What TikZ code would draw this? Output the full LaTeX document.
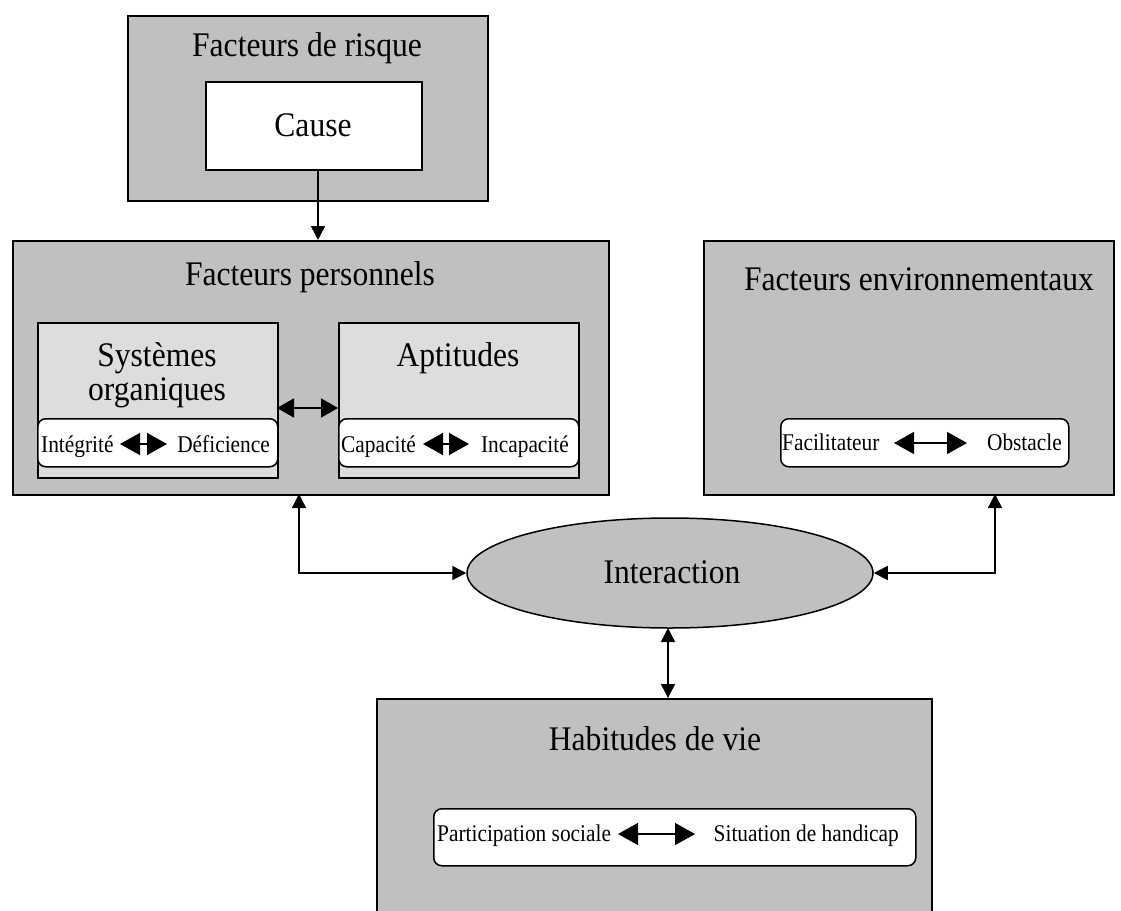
\documentclass[tikz,border=0pt]{standalone}
\usepackage{fontspec}
\setmainfont{Liberation Serif}
\newfontfamily\bigserif{Liberation Serif}[FakeStretch=0.915]
\newfontfamily\smallserif{Liberation Serif}[FakeStretch=0.89]
\usetikzlibrary{arrows.meta,shapes.geometric}
\definecolor{boxgray}{RGB}{192,192,192}
\definecolor{innergray}{RGB}{221,221,221}
\tikzset{
  outerbox/.style={draw=black, line width=1.5pt, fill=boxgray, rectangle, anchor=north west, inner sep=0pt},
  innerbox/.style={draw=black, line width=1.5pt, fill=innergray, rectangle, anchor=north west, inner sep=0pt},
  whitebox/.style={draw=black, line width=1.5pt, fill=white, rectangle, anchor=north west, inner sep=0pt},
  pill/.style={draw=black, line width=1.5pt, fill=white, rectangle, rounded corners=8pt, anchor=north west, inner sep=0pt},
  bigtxt/.style={font=\bigserif\fontsize{34.5}{40}\selectfont, inner sep=0pt},
  smalltxt/.style={font=\smallserif\fontsize{24}{28}\selectfont, inner sep=0pt},
  conn/.style={line width=1.5pt, {Triangle[length=14pt,width=14pt]}-{Triangle[length=14pt,width=14pt]}},
  oneway/.style={line width=1.5pt, -{Triangle[length=14pt,width=14pt]}},
  midarrow/.style={line width=1.5pt, {Triangle[length=17pt,width=19pt]}-{Triangle[length=17pt,width=19pt]}},
  pillarrow/.style={line width=1.5pt, {Triangle[length=20pt,width=22pt]}-{Triangle[length=20pt,width=22pt]}},
}
\begin{document}
\begin{tikzpicture}[x=1pt,y=-1pt]
\useasboundingbox (0,0) rectangle (1121,910);
\clip (0,0) rectangle (1121,910);
% Facteurs de risque
\node[outerbox, minimum width=360pt, minimum height=185pt] (fr) at (127,15) {};
\node[bigtxt] (frt) at (307,48) {Facteurs de risque};
\node[whitebox, minimum width=216pt, minimum height=88pt] (cause) at (205,81) {};
\node[bigtxt] (causet) at (313,125) {Cause};
% Facteurs personnels
\node[outerbox, minimum width=596pt, minimum height=254pt] (fp) at (12,240) {};
\node[bigtxt] (fpt) at (310,277) {Facteurs personnels};
\node[innerbox, minimum width=240pt, minimum height=155pt] (so) at (37,322) {};
\node[bigtxt] (sot1) at (157,358) {Systèmes};
\node[bigtxt] (sot2) at (157,393) {organiques};
\node[pill, minimum width=240pt, minimum height=48pt] (sop) at (37,418) {};
\node[smalltxt, anchor=base west] (integ) at (41,452) {Intégrité};
\node[smalltxt, anchor=base east] (defic) at (270,452) {Déficience};
\coordinate (sa1) at (120,444);
\coordinate (sa2) at (167,444);
\draw[pillarrow] (sa1) -- (sa2);
\node[innerbox, minimum width=240pt, minimum height=155pt] (ap) at (338,322) {};
\node[bigtxt] (apt) at (458,358) {Aptitudes};
\node[pill, minimum width=240pt, minimum height=48pt] (app) at (338,418) {};
\node[smalltxt, anchor=base west] (capa) at (341,452) {Capacité};
\node[smalltxt, anchor=base east] (incapa) at (569,452) {Incapacité};
\coordinate (aa1) at (423,444);
\coordinate (aa2) at (469,444);
\draw[pillarrow] (aa1) -- (aa2);
\coordinate (soe) at (277,408);
\coordinate (apw) at (338,408);
\draw[midarrow] (soe) -- (apw);
% Facteurs environnementaux
\node[outerbox, minimum width=410pt, minimum height=254pt] (fe) at (703,240) {};
\node[bigtxt] (fet) at (919,279) {Facteurs environnementaux};
\node[pill, minimum width=288pt, minimum height=48pt] (fep) at (780,418) {};
\node[smalltxt, anchor=base west] (facil) at (782,450) {Facilitateur};
\node[smalltxt, anchor=base east] (obst) at (1062,450) {Obstacle};
\coordinate (fa1) at (894,443);
\coordinate (fa2) at (967,443);
\draw[pillarrow] (fa1) -- (fa2);
% Interaction
\node[ellipse, draw=black, line width=1.5pt, fill=boxgray, minimum width=406pt, minimum height=110pt, inner sep=0pt] (inter) at (670,573) {};
\node[bigtxt] (intert) at (672,572) {Interaction};
% Habitudes de vie
\node[outerbox, minimum width=555pt, minimum height=240pt] (hv) at (376,698) {};
\node[bigtxt] (hvt) at (655,739) {Habitudes de vie};
\node[pill, minimum width=482pt, minimum height=57pt] (hvp) at (433,808) {};
\node[smalltxt, anchor=base west] (partic) at (437,841) {Participation sociale};
\node[smalltxt, anchor=base east] (situ) at (899,841) {Situation de handicap};
\coordinate (ha1) at (618,834);
\coordinate (ha2) at (695,834);
\draw[pillarrow] (ha1) -- (ha2);
% connectors
\draw[oneway] (cause.south -| 318,0) -- (318,240);
\coordinate (fpb) at (299,494);
\draw[conn] (fpb) |- (inter.west);
\coordinate (feb) at (995,494);
\draw[conn] (inter.east) -| (feb);
\coordinate (intb) at (668,628);
\coordinate (hvtop) at (668,698);
\draw[conn] (intb) -- (hvtop);
\end{tikzpicture}
\end{document}
